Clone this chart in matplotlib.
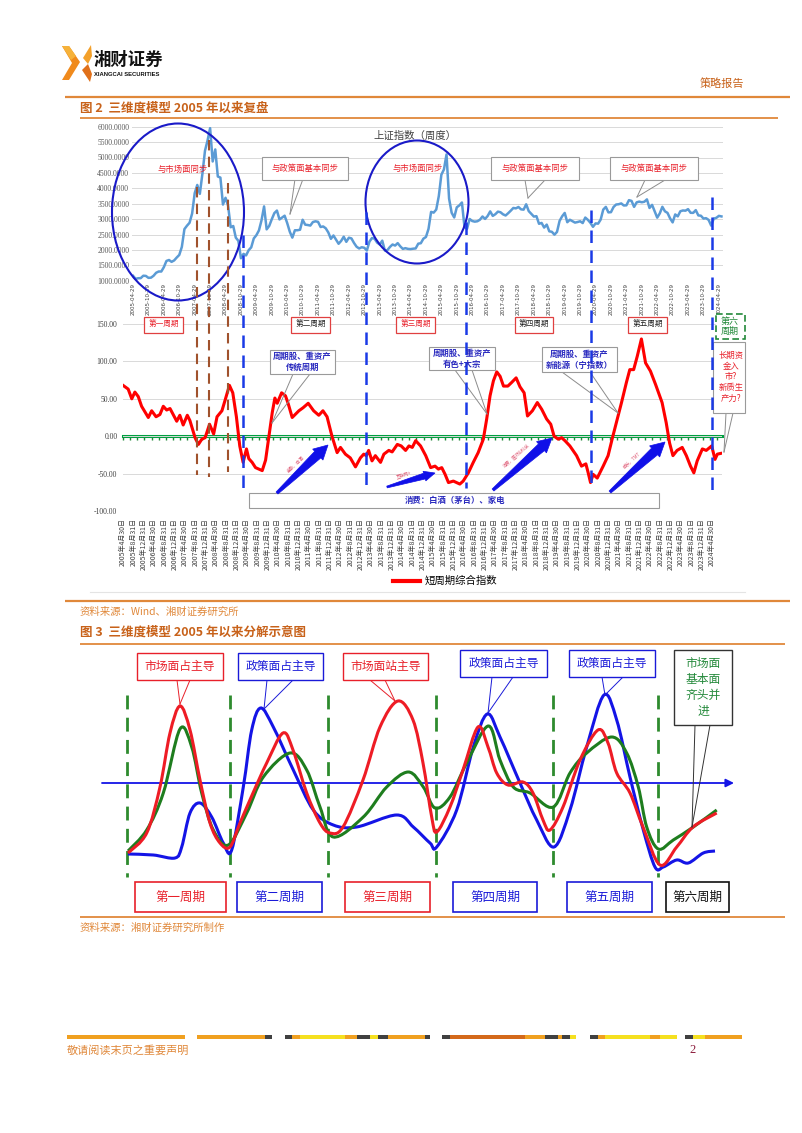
import numpy as np
import matplotlib
matplotlib.use("Agg")
import matplotlib.pyplot as plt
from matplotlib.patches import Rectangle, Ellipse, Polygon, PathPatch
from matplotlib.path import Path
from matplotlib.lines import Line2D

plt.rcParams['font.family'] = ['Noto Sans CJK SC', 'DejaVu Sans']
plt.rcParams['axes.unicode_minus'] = False

W, H = 802, 1133

# ---------------- data ----------------
# Shanghai Composite, monthly readings 2005-04 .. 2024-05
sse_close = [
    1159, 1060, 1080, 1083, 1162, 1155, 1092, 1099, 1161,
    1258, 1299, 1298, 1440, 1641, 1672, 1612, 1658, 1752, 1837, 2099, 2675,
    2786, 2881, 3183, 3841, 4109, 3820, 4471, 5218, 5552, 5954, 4871, 5262,
    4383, 4348, 3473, 3693, 3433, 2736, 2775, 2397, 2293, 1729, 1871, 1821,
    1991, 2082, 2373, 2477, 2633, 2959, 3412, 2667, 2779, 2996, 3195, 3277,
    2989, 3051, 3110, 2871, 2592, 2398, 2638, 2638, 2655, 2979, 2820, 2808,
    2790, 2905, 2928, 2911, 2743, 2762, 2701, 2567, 2359, 2468, 2333, 2199,
    2292, 2428, 2262, 2396, 2373, 2225, 2103, 2047, 2086, 2069, 1980, 2269,
    2385, 2365, 2237, 2177, 2300, 1979, 1994, 2098, 2175, 2141, 2220, 2116,
    2033, 2056, 2033, 2026, 2039, 2048, 2202, 2217, 2364, 2420, 2683, 3235,
    3210, 3310, 3748, 4442, 4612, 5100, 3664, 3206, 3053, 3383, 3445, 3539,
    2738, 2688, 3004, 2938, 2917, 2930, 2979, 3085, 3005, 3100, 3250, 3104,
    3159, 3242, 3223, 3155, 3117, 3192, 3273, 3361, 3349, 3393, 3317, 3307,
    3481, 3259, 3169, 3082, 3095, 2847, 2876, 2725, 2821, 2603, 2588, 2494,
    2585, 2941, 3091, 3200, 2899, 2979, 2933, 2886, 2905, 2929, 2872, 3050,
    2977, 2880, 2750, 2860, 2852, 2985, 3310, 3396, 3218, 3225, 3392, 3473,
    3483, 3509, 3442, 3447, 3615, 3591, 3397, 3544, 3568, 3547, 3564, 3640,
    3361, 3462, 3252, 3047, 3186, 3399, 3253, 3202, 3024, 2893, 3151, 3089,
    3255, 3280, 3273, 3323, 3205, 3202, 3291, 3120, 3110, 3018, 3030, 2975,
    2789, 3015, 3041, 3105, 3087,
]
sse_yticks = [1000, 1500, 2000, 2500, 3000, 3500, 4000, 4500, 5000, 5500, 6000]
sse_xlabels = [f"{y}-{mo}-29" for y in range(2005, 2025) for mo in ("04", "10")][:39]

# short-cycle composite index (months since 2005-04, value)
cyc_m = [0, 2, 3.4, 4.6, 5.9, 7.2, 9.8, 11.1, 12.8, 14.3, 15.6, 16.9, 18.2, 20.8, 22, 23.3,
         24.9, 25.9, 27.9, 29.2, 30.5, 31.8, 33.5, 35.1, 36.4, 38.3, 39.6, 41.2, 42.5, 43.9,
         45.2, 46.5, 47.8, 48.7, 50, 51.3, 53.9, 55.2, 56.5, 57.8, 58.8, 59.7, 61.4, 62.9,
         64, 65.5, 68.1, 69.7, 71.7, 73.8, 75.8, 77.4, 79, 80.9, 82.9, 84.2, 86.1, 88, 90,
         91.9, 93.2, 94.2, 95.1, 96.4, 97.7, 99.7, 101, 102.9, 104.2, 106.2, 107.7, 109.4,
         110.7, 112, 113.3, 115.2, 117.2, 119.1, 120.8, 122.1, 123.4, 124.7, 126, 127.9,
         129.2, 130.4, 131.7, 133.7, 135.6, 137.5, 139.5, 140.8, 142.1, 143.4, 144.7, 146,
         147.3, 149, 150.5, 152.2, 153.7, 155.3, 156.6, 158.5, 160.4, 162.1, 164, 165.6,
         166.9, 168.5, 169.8, 171.1, 173, 175.6, 177.5, 179.2, 180.1, 181, 182, 183.6,
         185.9, 187.8, 189.5, 191, 193, 194.9, 196.2, 197.7, 199.1, 200.7, 202.3, 204.2,
         206.2, 208.7, 210.3, 211.6, 212.9, 214.5, 216.5, 218.1, 219.7, 221, 222.3, 224.3,
         225.8, 227.9, 229.2, 230.1, 231.4]
cyc_val = [68, 63, 50, 59, 53, 40, 25, 34, 26, 29, 40, 35, 37, 20, 28, 15,
           28, 21, -2, -11, -4, -2, 16, 3, 26, 34, 49, 68, 58, 26,
           -13, -35, -17, -30, -35, -42, -46, -32, 0, 32, 51, 44, 58, 54,
           43, 25, 34, 38, 44, 34, 28, 34, 26, 0, -22, -15, -24, -29, -41,
           -29, -24, -26, -19, -33, -26, -35, -24, -19, -21, -11, -13, -19,
           -13, -15, -6, -13, -26, -42, -40, -44, -42, -51, -62, -60,
           -62, -64, -60, -49, -35, -22, -4, 23, 54, 74, 86, 80,
           67, 67, 72, 78, 66, 58, 27, 34, 45, 36, 23, 16,
           0, -4, -2, -6, -13, -26, -40, -37, -49, -62, -51, -56,
           -40, -26, -2, 18, 45, 72, 89, 89, 107, 130, 98, 87,
           69, 45, 18, -9, -26, -19, -15, -26, -40, -49, -33, -17,
           -19, -13, -31, -24, -23]
cyc_yticks = [-100, -50, 0, 50, 100, 150]
cyc_xlabels = [f"{y}年{mo}月{d}日" for y in range(2005, 2025)
               for mo, d in ((4, 30), (8, 31), (12, 31))][:58]

# schematic curves of figure 3 (horizontal position, level relative to the axis)
red_x = [128, 146.7, 160, 170, 180, 190, 200, 210, 220, 230, 240, 253, 266.7, 283, 293, 306.7,
         320, 330, 343, 363, 380, 398, 413, 423, 431.7, 436.7, 450, 463, 478, 488, 496.7,
         508, 523, 533, 543, 550, 563, 580, 598, 608, 616.7, 630, 643, 660, 676.7, 693, 716.7]
red_y = [-70, -50, -4, 50, 77, 53, 3, -40, -60, -64, -40, -10, 20, 50, 33, -10,
         -40, -50, -44, 3, 56, 82, 63, 20, -34, -49, -24, 13, 56, 36, 10,
         -2, 1, -10, -37, -47, -24, 23, 53, 40, 10, -10, -44, -82, -64, -44, -30]
green_x = [128, 146.7, 163.3, 180, 191.7, 201.7, 213.3, 228.3, 246.7, 263.3, 290, 306.7, 320,
           333.3, 363.3, 386.7, 408.3, 423.3, 435, 450, 466.7, 488.3, 500, 513.3, 530, 553.3,
           570, 586.7, 611.7, 626.7, 638.3, 646.7, 658.3, 673.3, 693.3, 716.7]
green_y = [-68, -47, -10, 54, 36, -10, -47, -62, -30, 6, 30, 13, -24,
           -54, -34, -4, 11, -4, -25, -14, 20, 57, 23, -4, -10, -24,
           10, 30, 46, 30, -4, -44, -66, -57, -44, -27]
blue_x = [128, 153.3, 175, 181.7, 190, 200, 211.7, 223.3, 231.7, 243.3, 251.7, 260.7, 273.3,
          293.3, 313.3, 333.3, 356.7, 396.7, 413.3, 430, 436.7, 456.7, 473.3, 487.3, 500, 520,
          536.7, 554, 570, 586.7, 604, 616.7, 630, 643.3, 655, 663.3, 676.7, 688.3, 703.3, 715]
blue_y = [-71, -72, -75, -64, -30, -20, -34, -60, -67, -4, 53, 75, 56,
          13, -27, -42, -44, -32, -44, -60, -64, -27, 36, 69, 46, 0,
          -37, -64, -27, 36, 88, 63, 6, -47, -84, -84, -77, -80, -70, -68]
period_bounds = [127, 230, 328, 436, 553, 658]

# ---------------- figure ----------------
fig = plt.figure(figsize=(W / 100, H / 100), dpi=100)


def rect(x0, y0, x1, y1):
    return [x0 / W, 1 - y1 / H, (x1 - x0) / W, (y1 - y0) / H]


ORANGE = '#E0883A'
TITLE_C = '#C8621A'
RED = '#E8202A'
BLUE = '#1A1AD8'
GREEN = '#23893A'

# ---- top chart: Shanghai index ----
ax1 = fig.add_axes(rect(132, 126.7, 723, 280.7))
ax1.plot(np.arange(len(sse_close)), sse_close, color='#5B9BD5', lw=1.8, solid_joinstyle='round')
ax1.set_ylim(1000, 6000)
ax1.set_xlim(-0.4, 229.6)
ax1.set_yticks(sse_yticks)
ax1.set_yticklabels([f"{v}.0000" for v in sse_yticks], fontsize=5.5, color='#595959',
                    family='Liberation Serif')
ax1.tick_params(axis='y', length=0, pad=2)
ax1.set_xticks(np.arange(0, 229, 6))
ax1.set_xticklabels(sse_xlabels, rotation=90, fontsize=4, color='#404040', family='DejaVu Sans')
ax1.tick_params(axis='x', length=0, pad=2)
ax1.grid(axis='y', color='#D9D9D9', lw=0.7)
ax1.set_axisbelow(True)
for s in ax1.spines.values():
    s.set_visible(False)
ax1.patch.set_visible(False)

# ---- middle chart: short cycle index ----
ax2 = fig.add_axes(rect(123, 324, 722, 511))
ax2.set_xlim(0, 231.9)
ax2.set_ylim(-100, 150)
ax2.set_yticks(cyc_yticks)
ax2.set_yticklabels([f"{v:.2f}" for v in cyc_yticks], fontsize=5.5, color='#404040',
                    family='Liberation Serif')
ax2.tick_params(axis='y', length=0, pad=4)
ax2.set_xticks(np.arange(0, 229, 4))
ax2.set_xticklabels(cyc_xlabels, rotation=90, fontsize=5, color='#404040')
ax2.tick_params(axis='x', length=0, pad=5)
ax2.grid(axis='y', color='#D9D9D9', lw=0.7)
ax2.set_axisbelow(True)
for s in ax2.spines.values():
    s.set_visible(False)
ax2.patch.set_visible(False)
sec = ax2.secondary_xaxis(0.4)
sec.set_xticks(np.arange(0, 232, 2.77))
sec.tick_params(direction='out', length=3, width=1, colors=GREEN, labelbottom=False)
sec.spines['bottom'].set_color('#00A040')
sec.spines['bottom'].set_linewidth(2.2)
line_cyc, = ax2.plot(cyc_m, cyc_val, color='#FF0000', lw=2.2, solid_joinstyle='round', zorder=5)
ax2.legend([Line2D([], [], color='#FF0000', lw=3)], ['短周期综合指数'], loc='center',
           bbox_to_anchor=(445 / W, 1 - 581 / H), bbox_transform=fig.transFigure,
           frameon=False, fontsize=7.5, handlelength=2.6, handletextpad=0.4)

# ---- bottom chart: schematic ----
ax3 = fig.add_axes(rect(80, 644, 790, 917))
ax3.set_xlim(80, 790)
ax3.set_ylim(-134, 139)
ax3.axis('off')


def smooth_path(xs, ys):
    P = np.column_stack([xs, ys]).astype(float)
    n = len(P)
    verts = [P[0]]
    codes = [Path.MOVETO]
    for i in range(n - 1):
        p0 = P[i - 1] if i > 0 else P[i]
        p1, p2 = P[i], P[i + 1]
        p3 = P[i + 2] if i + 2 < n else P[i + 1]
        verts += [p1 + (p2 - p0) / 6, p2 - (p3 - p1) / 6, p2]
        codes += [Path.CURVE4] * 3
    return Path(verts, codes)


for xs, ys, c in ((blue_x, blue_y, '#1414E6'), (green_x, green_y, '#1E7D1E'), (red_x, red_y, '#EE1C25')):
    ax3.add_patch(PathPatch(smooth_path(xs, ys), fill=False, ec=c, lw=2.2, zorder=4))
for xb in period_bounds:
    ax3.plot([xb, xb], [88, -94], color='#2E8B2E', lw=2, ls=(0, (5, 3)), zorder=3)
ax3.annotate('', xy=(734, 0), xytext=(102, 0),
             arrowprops=dict(arrowstyle='-|>', color='#1414E6', lw=1.3, mutation_scale=12,
                             shrinkA=0, shrinkB=0), zorder=2)

# ---------------- overlay decorations ----------------
ov = fig.add_axes([0, 0, 1, 1], zorder=10)
ov.set_xlim(0, W)
ov.set_ylim(H, 0)
ov.axis('off')
ov.patch.set_visible(False)


def hline(y, x0, x1, color=ORANGE, lw=1.4):
    ov.plot([x0, x1], [y, y], color=color, lw=lw, solid_capstyle='butt')


def box(x0, y0, x1, y1, ec, lw=0.8, ls='-', fc='white', z=4):
    ov.add_patch(Rectangle((x0, y0), x1 - x0, y1 - y0, fc=fc, ec=ec, lw=lw, ls=ls, zorder=z))


def txt(x, y, s, size, color, ha='center', va='center', weight='normal', **kw):
    ov.text(x, y, s, fontsize=size, color=color, ha=ha, va=va, weight=weight, zorder=6, **kw)


def pointer(bases, tip, color, lw=0.7):
    for bx, by in bases:
        ov.plot([bx, tip[0]], [by, tip[1]], color=color, lw=lw, zorder=3)


def wedge(x0, y0, x1, y1, wb, wh, hl, color='#1010E8'):
    p0 = np.array([x0, y0], float)
    p1 = np.array([x1, y1], float)
    d = p1 - p0
    L = np.hypot(*d)
    d /= L
    n = np.array([-d[1], d[0]])
    base = p0 + d * (L - hl)
    pts = [p0 - n * wb * 0.15, base - n * wb / 2, base - n * wh / 2, p1,
           base + n * wh / 2, base + n * wb / 2, p0 + n * wb * 0.15]
    ov.add_patch(Polygon(pts, closed=True, fc=color, ec=color, lw=0.5, zorder=5))


# header / logo
ov.add_patch(Polygon([(62, 46), (69, 46), (80, 62), (69, 80), (62, 80), (72, 63)],
                     fc='#F08A1C', ec='none'))
ov.add_patch(Polygon([(62, 46), (69, 46), (76, 56), (71, 60)], fc='#F6B23A', ec='none'))
ov.add_patch(Polygon([(91, 45), (83, 58), (88, 64), (92, 56)], fc='#F3A02A', ec='none'))
ov.add_patch(Polygon([(88, 64), (82, 70), (90, 82), (92, 74)], fc='#E0701A', ec='none'))
txt(93, 60, '湘财证券', 12.5, '#111111', ha='left', weight='bold')
txt(93.5, 74, 'XIANGCAI SECURITIES', 4.2, '#111111', ha='left', weight='bold',
    family='Liberation Sans')
txt(722, 84, '策略报告', 8, TITLE_C)
hline(97, 65, 790, lw=1.6)
txt(80, 108, '图 2  三维度模型 2005 年以来复盘', 9, TITLE_C, ha='left', weight='bold')
hline(118, 80, 778, lw=1.3)

# top chart decorations
txt(415, 136, '上证指数（周度）', 7.5, '#404040')
ov.add_patch(Ellipse((178, 212), 132, 177, fill=False, ec='#1A1AC8', lw=1.5, zorder=5))
ov.add_patch(Ellipse((417, 202), 103, 123, fill=False, ec='#1A1AC8', lw=1.5, zorder=5))
txt(183, 169, '与市场面同步', 6, RED)
txt(418, 168, '与市场面同步', 6, RED)
for (bx0, bx1, bases, tip) in (
        (262, 348, [(295, 179), (303, 179)], (290, 214)),
        (491, 579, [(525, 180), (545, 180)], (528, 198)),
        (610, 698, [(645, 180), (665, 180)], (637, 197))):
    pointer(bases, tip, '#8C8C8C')
    box(bx0, 157, bx1, 180, '#9A9A9A')
    txt((bx0 + bx1) / 2, 168.5, '与政策面基本同步', 6, RED)

# vertical dashed lines across the two charts
for x, y0, y1 in ((197, 187, 475), (209, 140, 477), (228, 183, 472)):
    ov.plot([x, x], [y0, y1], color='#A0522D', lw=1.5, ls=(0, (5, 3)), zorder=5)
for x, y0, y1 in ((243, 235, 495), (366, 212, 490), (466, 222, 488), (591, 210, 490), (712, 197, 490)):
    ov.plot([x, x], [y0, y1], color='#1A3AE6', lw=1.8, ls=(0, (5, 3)), zorder=5)

# middle chart period boxes
for x0, x1, s, c in ((144, 183, '第一周期', RED), (291, 330, '第二周期', '#222222'),
                     (396, 435, '第三周期', RED), (515, 553, '第四周期', '#222222'),
                     (628, 667, '第五周期', '#222222')):
    box(x0, 317, x1, 333, '#E04040', lw=0.9)
    txt((x0 + x1) / 2, 325, s, 5.5, c)
box(716, 314, 745, 339, GREEN, lw=1.2, ls=(0, (4, 2)))
txt(730, 326.5, '第六\n周期', 6.5, GREEN, linespacing=1.2)

# middle chart callouts
BTXT = '#2A2ABF'
pointer([(293, 374), (310, 374)], (272, 423), '#8C8C8C')
box(270, 350, 335, 374, '#9A9A9A')
txt(302.5, 362, '周期股、重资产\n传统周期', 6, BTXT, weight='bold', linespacing=1.3)
pointer([(455, 370), (472, 370)], (487, 414), '#8C8C8C')
box(429, 347, 495, 370, '#9A9A9A')
txt(462, 358.5, '周期股、重资产\n有色+大宗', 6, BTXT, weight='bold', linespacing=1.3)
pointer([(562, 372), (590, 372)], (618, 413), '#8C8C8C')
box(542, 347, 617, 372, '#9A9A9A')
txt(579.5, 359.5, '周期股、重资产\n新能源（宁指数）', 6, BTXT, weight='bold', linespacing=1.3)
pointer([(726, 413), (733, 413)], (724, 452), '#8C8C8C')
box(713, 342, 745, 413, '#9A9A9A')
txt(731, 377, '长期资\n金入\n市?\n新质生\n产力?', 6, RED, linespacing=1.25)
box(249, 493, 659, 508, '#9A9A9A')
txt(455, 500.5, '消费：白酒（茅台）、家电', 6, BTXT, weight='bold')

# blue wedge arrows + small labels
wedge(277, 493, 328, 445, 9, 15, 14)
wedge(387, 487, 435, 473, 6, 10, 11)
wedge(493, 490, 552, 438, 9, 15, 14)
wedge(610, 492, 665, 442, 9, 15, 14)
txt(296, 464, '金融、白酒', 3.2, '#E0607A', rotation=43)
txt(404, 475, '互联网+', 3.2, '#E0607A', rotation=16)
txt(516, 455, '消费、医药&科技', 3.2, '#E0607A', rotation=41)
txt(632, 460, '成长、TMT', 3.2, '#E0607A', rotation=42)

ov.plot([90, 745], [592, 592], color='#E4E4E4', lw=0.8)
hline(601, 65, 790, lw=1.6)
txt(80, 612, '资料来源：Wind、湘财证券研究所', 7.5, ORANGE, ha='left')
txt(80, 632, '图 3  三维度模型 2005 年以来分解示意图', 9, TITLE_C, ha='left', weight='bold')
hline(644, 80, 785, lw=1.3)

# bottom chart callouts
for x0, x1, y0, y1, s, c, bases, tip in (
        (137, 223, 653, 680, '市场面占主导', RED, [(177, 680), (190, 680)], (180, 704)),
        (238, 323, 653, 680, '政策面占主导', BLUE, [(267, 680), (293, 680)], (264, 709)),
        (343, 428, 653, 680, '市场面站主导', RED, [(370, 680), (385, 680)], (395, 701)),
        (460, 547, 650, 677, '政策面占主导', BLUE, [(492, 677), (513, 677)], (488, 713)),
        (569, 655, 650, 677, '政策面占主导', BLUE, [(602, 677), (623, 677)], (605, 695))):
    pointer(bases, tip, c)
    box(x0, y0, x1, y1, c, lw=1.0)
    txt((x0 + x1) / 2, (y0 + y1) / 2, s, 8.5, c)
pointer([(695, 725), (710, 725)], (692, 827), '#333333')
box(674, 650, 732, 725, '#333333', lw=1.0)
txt(703, 687, '市场面\n基本面\n齐头并\n进', 8.5, GREEN, linespacing=1.3)

for x0, x1, s, c in ((135, 226, '第一周期', RED), (237, 322, '第二周期', BLUE),
                     (345, 430, '第三周期', RED), (453, 537, '第四周期', BLUE),
                     (567, 652, '第五周期', BLUE), (666, 729, '第六周期', '#111111')):
    box(x0, 882, x1, 912, c, lw=1.2)
    txt((x0 + x1) / 2, 897, s, 9, c if c != RED else RED)

hline(917, 80, 785, lw=1.3)
txt(80, 928, '资料来源：湘财证券研究所制作', 7.5, ORANGE, ha='left')

# footer bar
segs = [(67, 185, '#F0A020'), (197, 265, '#F0A020'), (265, 272, '#404040'), (285, 292, '#404040'),
        (292, 300, '#F0A020'), (300, 345, '#F5E020'), (345, 357, '#F0A020'), (357, 370, '#404040'),
        (370, 378, '#F5E020'), (378, 388, '#404040'), (388, 425, '#F0A020'), (425, 430, '#404040'),
        (442, 450, '#404040'), (450, 525, '#D4691A'), (525, 545, '#F0A020'), (545, 558, '#404040'),
        (558, 562, '#F0A020'), (562, 570, '#404040'), (570, 576, '#F5E020'), (590, 598, '#404040'),
        (598, 605, '#F0A020'), (605, 650, '#F5E020'), (650, 660, '#F0A020'), (660, 677, '#F5E020'),
        (685, 693, '#404040'), (693, 705, '#F5E020'), (705, 742, '#F0A020')]
for x0, x1, c in segs:
    ov.add_patch(Rectangle((x0, 1035), x1 - x0, 4, fc=c, ec='none'))
txt(67, 1050, '敬请阅读末页之重要声明', 8, ORANGE, ha='left')
txt(693, 1050, '2', 9, '#8B1A3A', family='Liberation Serif')

fig.savefig('out.png', dpi=100)
